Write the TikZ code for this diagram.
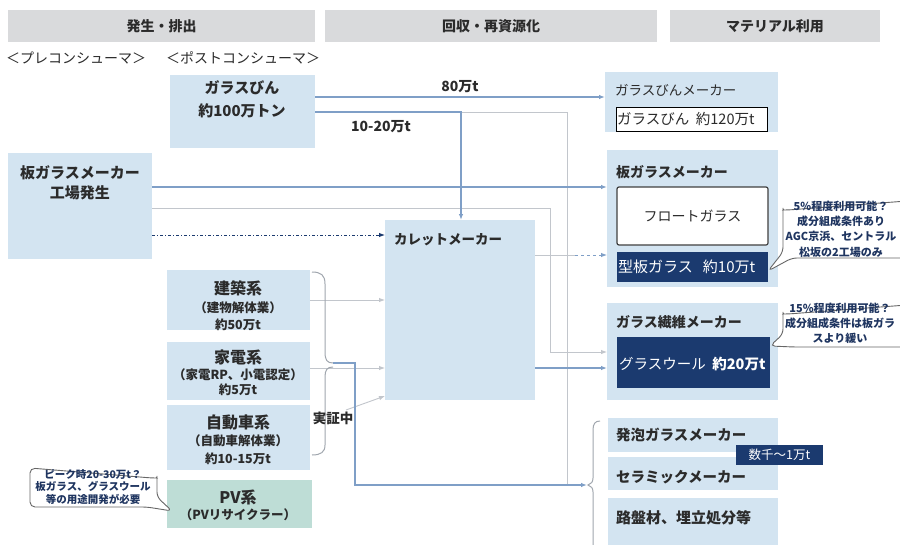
\documentclass[tikz,border=0pt]{standalone}
\usepackage{fontspec}
\setmainfont{Noto Sans CJK JP}
\usetikzlibrary{arrows.meta}
\definecolor{boxblue}{HTML}{D3E4F1}
\definecolor{hdrgray}{HTML}{D9DADC}
\definecolor{navy}{HTML}{1B3A6F}
\definecolor{pvteal}{HTML}{BEDDD6}
\definecolor{lnblue}{HTML}{7F9FC7}
\definecolor{lngray}{HTML}{C2C6CC}
\definecolor{brkgray}{HTML}{A0A6AE}
\definecolor{txt}{HTML}{2B2B2B}
\definecolor{callt}{HTML}{1F3560}
\newcommand{\fs}[2]{\fontsize{#1}{#2}\selectfont}
\begin{document}
\begin{tikzpicture}[x=1pt,y=-1pt,
  bx/.style={anchor=north west, inner sep=0pt, outer sep=0pt},
  lbl/.style={inner sep=0pt, text=txt, align=center},
  ln/.style={draw=lnblue, line width=1.4pt},
  lg/.style={draw=lngray, line width=0.9pt},
  brk/.style={draw=brkgray, line width=1pt},
  tip/.style={-{Latex[length=6pt,width=4.5pt]}},
  callbox/.style={draw=gray!80!black, line width=0.9pt, fill=white, rounded corners=5pt},
]
\useasboundingbox (0,0) rectangle (900,544);
\fill[white] (0,0) rectangle (900,544);

% headers
\node[bx, fill=hdrgray, minimum width=307pt, minimum height=32pt, font=\fs{14}{16}\bfseries, text=txt] (h1) at (8,10) {発生・排出};
\node[bx, fill=hdrgray, minimum width=332pt, minimum height=32pt, font=\fs{14}{16}\bfseries, text=txt] (h2) at (325,10) {回収・再資源化};
\node[bx, fill=hdrgray, minimum width=210pt, minimum height=32pt, font=\fs{14}{16}\bfseries, text=txt] (h3) at (670,10) {マテリアル利用};

\node[lbl, anchor=west, font=\fs{14}{16}] (pre) at (6,58) {＜プレコンシューマ＞};
\node[lbl, anchor=west, font=\fs{14}{16}] (post) at (166,58) {＜ポストコンシューマ＞};

% left column boxes
\node[bx, fill=boxblue, minimum width=145pt, minimum height=73pt] (gb) at (170,75) {};
\node[lbl, font=\fs{15}{23}\bfseries] (gbt) at (242,99) {ガラスびん\\約100万トン};

\node[bx, fill=boxblue, minimum width=144pt, minimum height=106pt] (ff) at (8,153) {};
\node[lbl, font=\fs{15}{20}\bfseries] (fft) at (80,183) {板ガラスメーカー\\工場発生};

\node[bx, fill=boxblue, minimum width=143pt, minimum height=60pt] (b1) at (167,270) {};
\node[lbl, font=\fs{16}{18}\bfseries] (b1a) at (238,288) {建築系};
\node[lbl, font=\fs{12.5}{14}\bfseries] (b1b) at (238,308) {（建物解体業）};
\node[lbl, font=\fs{12.5}{14}\bfseries] (b1c) at (238,325) {約50万t};

\node[bx, fill=boxblue, minimum width=143pt, minimum height=58pt] (b2) at (167,342) {};
\node[lbl, font=\fs{16}{18}\bfseries] (b2a) at (238,357) {家電系};
\node[lbl, font=\fs{12.5}{14}\bfseries] (b2b) at (238,375) {（家電RP、小電認定）};
\node[lbl, font=\fs{12.5}{14}\bfseries] (b2c) at (238,390) {約5万t};

\node[bx, fill=boxblue, minimum width=143pt, minimum height=65pt] (b3) at (167,405) {};
\node[lbl, font=\fs{16}{18}\bfseries] (b3a) at (238,422) {自動車系};
\node[lbl, font=\fs{12.5}{14}\bfseries] (b3b) at (238,441) {（自動車解体業）};
\node[lbl, font=\fs{12.5}{14}\bfseries] (b3c) at (238,459) {約10-15万t};

\node[bx, fill=pvteal, minimum width=145pt, minimum height=48pt] (b4) at (167,480) {};
\node[lbl, font=\fs{16}{18}\bfseries] (b4a) at (238,497) {PV系};
\node[lbl, font=\fs{12.5}{14}\bfseries] (b4b) at (238,515) {（PVリサイクラー）};

% cullet maker
\node[bx, fill=boxblue, minimum width=150pt, minimum height=180pt] (cu) at (385,220) {};
\node[lbl, anchor=west, font=\fs{13.5}{15}\bfseries] (cut) at (394,240) {カレットメーカー};

% right column
\node[bx, fill=boxblue, minimum width=173pt, minimum height=60pt] (gbm) at (605,72) {};
\node[lbl, anchor=west, font=\fs{13.5}{15}] (gbmt) at (615,90) {ガラスびんメーカー};
\node[bx, fill=white, draw=black, line width=1pt, minimum width=151pt, minimum height=24pt] (gbi) at (616,107) {};
\node[lbl, anchor=west, font=\fs{14.5}{15}] (gbit) at (617,119) {ガラスびん\ \ 約120万t};

\node[bx, fill=boxblue, minimum width=171pt, minimum height=137pt] (pgm) at (607,150) {};
\node[lbl, anchor=west, font=\fs{14}{15}\bfseries] (pgmt) at (616,172) {板ガラスメーカー};
\node[bx, fill=white, draw=black!75, line width=1.2pt, rounded corners=2pt, minimum width=151pt, minimum height=58pt, font=\fs{14}{15}, text=txt] (fl) at (617,187) {フロートガラス};
\node[bx, fill=navy, minimum width=151pt, minimum height=30pt] (kb) at (617,252) {};
\node[lbl, anchor=west, text=white, font=\fs{15}{15}] (kbt) at (618,267) {型板ガラス\ \ \ 約10万t};

\node[bx, fill=boxblue, minimum width=171pt, minimum height=97pt] (gfm) at (607,303) {};
\node[lbl, anchor=west, font=\fs{14}{15}\bfseries] (gfmt) at (616,322) {ガラス繊維メーカー};
\node[bx, fill=navy, minimum width=153pt, minimum height=51pt] (gw) at (617,337) {};
\node[lbl, anchor=west, text=white, font=\fs{14.5}{15}] (gwt) at (619,364) {グラスウール\ \ {\bfseries 約20万t}};

\node[bx, fill=boxblue, minimum width=170pt, minimum height=34pt] (fo) at (608,418) {};
\node[lbl, anchor=west, font=\fs{14.5}{15}\bfseries] (fot) at (616,435) {発泡ガラスメーカー};
\node[bx, fill=boxblue, minimum width=170pt, minimum height=33pt] (ce) at (608,457) {};
\node[lbl, anchor=west, font=\fs{14.5}{15}\bfseries] (cet) at (616,477) {セラミックメーカー};
\node[bx, fill=boxblue, minimum width=170pt, minimum height=50pt] (rd) at (608,498) {};
\node[lbl, anchor=west, font=\fs{15}{16}\bfseries] (rdt) at (616,518) {路盤材、埋立処分等};
\node[bx, fill=navy, minimum width=87pt, minimum height=20pt, text=white, font=\fs{12.5}{13}] (num) at (736,445) {数千～1万t};

% connectors
\coordinate (j1) at (461,112);
\draw[lg] (j1) -- (567,112) -- (567,485);
\draw[lg, tip] (ff.east |- 0,208) -- (550,208) -- (550,352) -- (gfm.west |- 0,352);
\draw[ln, tip] (gb.east |- 0,97) -- (gbm.west |- 0,97);
\draw[ln, tip] (gb.east |- j1) -- (j1) -- (j1 |- cu.north);
\node[lbl, font=\fs{14}{15}\bfseries] (l80) at (460,87) {80万t};
\node[lbl, font=\fs{14}{15}\bfseries] (l1020) at (381,127) {10-20万t};

\draw[ln, tip] (ff.east |- 0,187) -- (pgm.west |- 0,187);
\draw[navy, line width=1pt, dash dot, tip] (ff.east |- 0,235) -- (cu.west |- 0,235);
\draw[lngray, line width=1pt] (cu.east |- 0,255) -- (575,255);
\draw[lnblue, line width=1pt, dashed, tip] (575,255) -- (pgm.west |- 0,255);
\draw[ln, line width=1.1pt, tip] (cu.east |- 0,368) -- (gfm.west |- 0,368);

\draw[lg, tip] (b1.east) -- (cu.west |- b1.east);
\draw[lg, tip] (b2.east |- 0,368) -- (cu.west |- 0,368);
\coordinate (dg) at (346,410);
\draw[lg, tip] (dg) -- (cu.west |- 0,396);

% brackets
\draw[brk] (312,272) .. controls (321,272) and (325,275) .. (325,284) -- (325,352) .. controls (325,360) and (327,363) .. (333,363);
\draw[brk] (333,367) .. controls (327,367) and (325,370) .. (325,377) -- (325,445) .. controls (325,452) and (321,455) .. (312,455);
\draw[brk] (600,421) .. controls (595,421) and (593,424) .. (593,430) -- (593,478) .. controls (593,482) and (591,484) .. (588,485) .. controls (591,486) and (593,488) .. (593,492) -- (593,550);
\coordinate (bs) at (333,363);
\coordinate (bt) at (587,485);
\draw[ln, tip] (bs) -- (355,363) -- (355,485) -- (bt);
\node[lbl, font=\fs{13.5}{15}\bfseries] (jsc) at (333,418) {実証中};

% callouts
\draw[callbox] (783,252) -- (783,205) arc[start angle=180, end angle=270, radius=5pt] -- (920,200) -- (920,258) -- (792,258) -- (768,271) -- cycle;
\node[lbl, text=callt, font=\fs{11}{15.3}\bfseries] (c1) at (841,229) {5\%程度利用可能？\\成分組成条件あり\\AGC京浜、セントラル\\松坂の2工場のみ};

\draw[callbox] (783,334) -- (783,309) arc[start angle=180, end angle=270, radius=5pt] -- (920,304) -- (920,347) -- (794,347) -- (770,346) -- cycle;
\node[lbl, text=callt, font=\fs{11}{15}\bfseries] (c2) at (840,323) {15\%程度利用可能？\\成分組成条件は板ガラ\\スより緩い};

\draw[callbox] (157,497) -- (157,473) arc[start angle=0, end angle=-90, radius=5pt] -- (30,468) -- (30,507) -- (147,507) -- (172,511) -- cycle;
\node[lbl, text=callt, font=\fs{10.5}{12.5}\bfseries] (c3) at (93,487) {ピーク時20-30万t？\\板ガラス、グラスウール\\等の用途開発が必要};
\end{tikzpicture}
\end{document}
